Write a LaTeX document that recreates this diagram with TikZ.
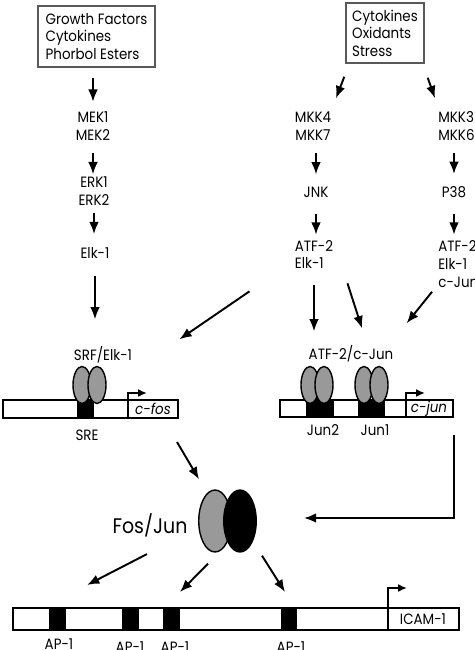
\documentclass[tikz,border=0pt]{standalone}
\usepackage{fontspec}
\setmainfont{Poppins}[FakeStretch=0.9]
\usetikzlibrary{arrows.meta,calc,positioning,shapes.geometric}
\tikzset{
  stimulus/.style={ % boxed upstream stimuli
    draw=black!65, line width=0.8pt, align=left, inner sep=0pt,
    font=\fontsize{8.5}{9.9}\selectfont
  },
  protein/.style={ % name of a kinase or a factor
    inner sep=0pt, align=center, font=\fontsize{8.5}{10.2}\selectfont
  },
  subunit/.style={ % grey factor sitting on the DNA
    draw, thick, ellipse, fill=black!40, inner sep=0pt,
    minimum width=0.36cm, minimum height=0.74cm
  },
  dimer/.style={ % the big Fos/Jun halves
    draw, thick, ellipse, inner sep=0pt,
    minimum width=0.65cm, minimum height=1.24cm
  },
  gene/.style={line width=1pt}, % outline of a promoter
  site/.style={fill=black},     % binding element
  tss/.style={-{Latex[length=5pt,width=4.5pt]}, line width=1pt}, % start of transcription
  arr/.style={-{Latex[length=7pt,width=5.5pt]}, line width=1.1pt}
}
\begin{document}
\begin{tikzpicture}[x=0.02cm, y=-0.02cm]
  \useasboundingbox (0,0) rectangle (474,650);

  % stimuli
  \node[stimulus, minimum width=2.34cm, minimum height=1.22cm] (growth) at (96.5,36.5)
    {Growth Factors\\Cytokines\\Phorbol Esters};
  \node[stimulus, minimum width=1.56cm, minimum height=1.2cm] (stress) at (385,33)
    {Cytokines\\Oxidants\\Stress};

  % kinase cascades
  \node[protein] (mek) at (93,126) {MEK1\\MEK2};
  \node[protein] (erk) at (94,191) {ERK1\\ERK2};
  \node[protein] (elk) at (95,253) {Elk-1};
  \node[protein] (mkkjnk) at (313,126) {MKK4\\MKK7};
  \node[protein] (jnk) at (316,192) {JNK};
  \node[protein, align=left] (atfjnk) at (314,254.5) {ATF-2\\Elk-1};
  \node[protein, align=left, anchor=west] (mkkp38) at (438,126) {MKK3\\MKK6};
  \node[protein] (p38) at (454,192) {P38};
  \node[protein, align=left, anchor=west] (atfp38) at (438,264) {ATF-2\\Elk-1\\c-Jun};

  % c-fos promoter
  \draw[gene] (3,400) rectangle (178,418);
  \fill[site] (77,400) rectangle (94,418);
  \draw[gene] (128,400) -- (128,418);
  \draw[tss] (128,400) |- (147,393);
  \coordinate (fosend) at (178,418);
  \node[protein] (cfos) at (153,409) {\itshape c-fos};
  \node[subunit] (srfa) at (82,385) {};
  \node[subunit] (srfb) at (97,385) {};
  \node[protein] (srf) at (103,355) {SRF/Elk-1};
  \node[protein] (sre) at (87,435) {SRE};

  % c-jun promoter
  \draw[gene] (280,400) rectangle (453,417);
  \fill[site] (306,400) rectangle (334,417);
  \fill[site] (358,400) rectangle (385,417);
  \draw[gene] (406,400) -- (406,417);
  \draw[tss] (406,400) |- (425,393);
  \coordinate (junend) at (453,417);
  \node[protein] (cjun) at (429,409) {\itshape c-jun};
  \node[subunit] (juna) at (310,385) {};
  \node[subunit] (junb) at (324,385) {};
  \node[subunit] (junc) at (364,385) {};
  \node[subunit] (jund) at (379,385) {};
  \node[protein] (atfjun) at (351,354) {ATF-2/c-Jun};
  \node[protein] (jun2) at (323,430) {Jun2};
  \node[protein] (jun1) at (375,430) {Jun1};

  % Fos/Jun
  \node[dimer, fill=black!40] (fos) at (215,521) {};
  \node[dimer, fill=black] (jun) at (240,521) {};
  \node[protein, font=\fontsize{12}{14}\selectfont] (fosjun) at (150,525) {Fos/Jun};

  % ICAM-1 promoter
  \draw[gene] (13,608) rectangle (459,630);
  \coordinate (icam) at (13,608);
  \fill[site] (49,608) rectangle (66,630);
  \fill[site] (122,608) rectangle (139,630);
  \fill[site] (163,608) rectangle (180,630);
  \fill[site] (281,608) rectangle (297,630);
  \draw[gene] (388,608) -- (388,630);
  \draw[tss] (388,608) |- (407,588);
  \node[protein] (icamname) at (423,619) {ICAM-1};
  \node[protein] (ap1a) at (59,644) {AP-1};
  \node[protein] (ap1b) at (130,647) {AP-1};
  \node[protein] (ap1c) at (175,647) {AP-1};
  \node[protein] (ap1d) at (291,647) {AP-1};

  % ERK branch
  \draw[arr, shorten <=0.2cm, shorten >=0.19cm] (mek.north |- growth.south) -- (mek.north);
  \draw[arr, shorten <=0.24cm, shorten >=0.04cm] (mek.south) -- (mek.south |- erk.north);
  \draw[arr, shorten <=0.14cm, shorten >=0.26cm] (erk.south) -- (erk.south |- elk.north);
  \draw[arr, shorten <=0.34cm, shorten >=0.54cm] (elk.south) -- (elk.south |- srf.north);
  % JNK branch
  \draw[arr] ($(stress.south west)+(-1,13)$) -- ($(mkkjnk.north)+(23,-13)$);
  \draw[arr, shorten <=0.24cm, shorten >=0.24cm] (jnk.north |- mkkjnk.south) -- (jnk.north);
  \draw[arr, shorten <=0.32cm, shorten >=0.1cm] (jnk.south) -- (jnk.south |- atfjnk.north);
  \draw[arr, shorten <=0.32cm, shorten >=0.28cm] (atfjnk.south) -- (atfjnk.south |- atfjun.north);
  \draw[arr] ($(atfjnk.south east)+(14,14)$) -- ($(atfjun.north)+(11,-17)$);
  \draw[arr] ($(atfjnk.south west)+(-45,22)$) -- ($(srf.north east)+(47,-7)$);
  % p38 branch
  \draw[arr] ($(stress.south east)+(3,14)$) -- ($(mkkp38.north west)+(-3,-13)$);
  \draw[arr, shorten <=0.24cm, shorten >=0.24cm] (p38.north |- mkkp38.south) -- (p38.north);
  \draw[arr, shorten <=0.32cm, shorten >=0.11cm] (p38.south) -- (p38.south |- atfp38.north);
  \draw[arr] ($(atfp38.south west)+(-6,4)$) -- ($(atfjun.north east)+(13,-22)$);

  % toward Fos/Jun and ICAM-1
  \draw[arr] ($(fosend)+(-1,24)$) -- ($(fos.north)+(-16,-10)$);
  \draw[arr] ($(junend)+(1,18)$) |- ($(jun.east)+(47,-3)$);
  \draw[arr] ($(fosjun.south)+(-3,17)$) -- ($(icam)+(74,-23)$);
  \draw[arr] ($(fos.south)+(-7,11)$) -- ($(icam)+(167,-16)$);
  \draw[arr] ($(jun.south)+(22,3)$) -- ($(icam)+(272,-16)$);
\end{tikzpicture}
\end{document}
